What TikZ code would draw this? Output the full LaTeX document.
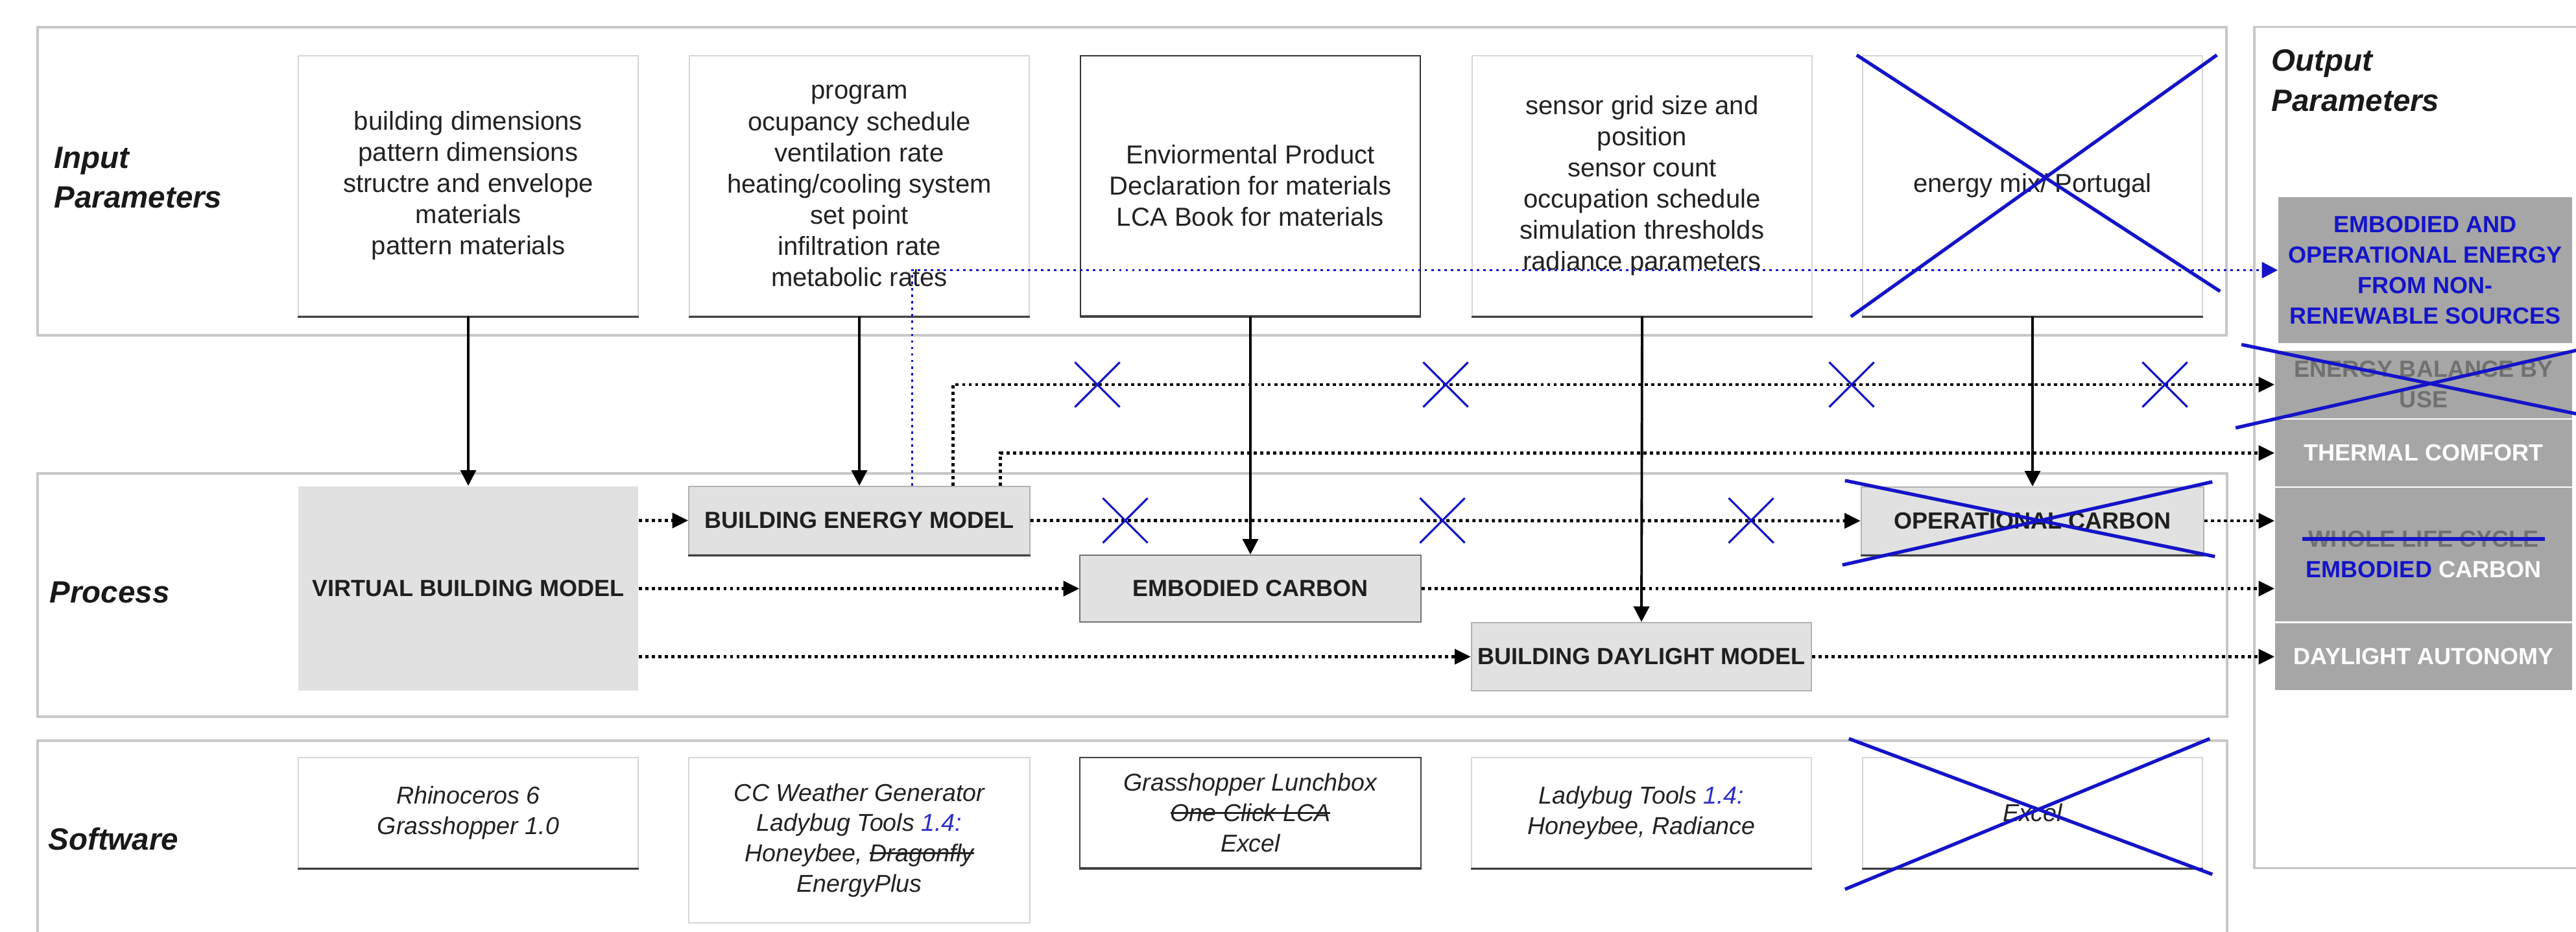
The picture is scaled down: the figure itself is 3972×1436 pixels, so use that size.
\documentclass[tikz,border=0pt]{standalone}
\usepackage{fontspec}
\setmainfont{Liberation Sans}
\usepackage{graphicx}
\usetikzlibrary{arrows.meta,shapes.misc,calc}
\definecolor{xblue}{RGB}{20,20,200}
\definecolor{lblue}{RGB}{45,45,200}
\definecolor{txtgray}{RGB}{34,34,34}
\definecolor{outgray}{RGB}{166,166,166}
\definecolor{procgray}{RGB}{225,225,225}
\definecolor{dimtext}{RGB}{112,112,112}
\newsavebox\mystrikebox
\newcommand\blackstrike[1]{\sbox\mystrikebox{#1}\rlap{#1}\rule[0.3em]{\wd\mystrikebox}{0.8pt}}
\newcommand\bluestrike[1]{\sbox\mystrikebox{#1}\rlap{#1}\hspace*{-2.7pt}{\color{xblue}\rule[\dimexpr0.36em-0.85pt\relax]{\dimexpr\wd\mystrikebox+5.4pt\relax}{1.7pt}}\hspace*{-2.7pt}}
\newcommand\intext{\fontsize{11.4pt}{13.66pt}\selectfont}
\newcommand\boxfont{\fontsize{10.25pt}{13.4pt}\selectfont\bfseries}
\newcommand\labfont{\fontsize{13.5pt}{17.5pt}\selectfont\bfseries\itshape}
\newcommand\swfont{\fontsize{10.7pt}{13.25pt}\selectfont\itshape}
\begin{document}
\begin{tikzpicture}[x=0.01cm,y=-0.01cm,
  panel/.style={draw=black!22, line width=1pt, fill=white, inner sep=0},
  lab/.style={font=\labfont, text=black!90, inner sep=0, align=left},
  inbox/.style={draw=black!16, line width=0.6pt, fill=white, minimum width=5.24cm, minimum height=4.01cm, inner sep=0, align=center, font=\intext, text=txtgray},
  procbox/.style={draw=black!30, line width=0.6pt, fill=procgray, inner sep=0, font=\boxfont, text=black!88},
  swbox/.style={draw=black!16, line width=0.6pt, fill=white, inner sep=0, text=txtgray, align=center, font=\swfont},
  outbox/.style={fill=outgray, inner sep=0, font=\boxfont, text=white, align=center},
  bottomline/.style={draw=black!75, line width=0.9pt},
  solidarrow/.style={-{Triangle[length=6.8pt,width=6.8pt]}, line width=1.1pt, black},
  dotarrow/.style={-{Triangle[length=7pt,width=6.5pt]}, line width=1.4pt, dash pattern=on 1.4pt off 1.45pt, black},
  bluedotarrow/.style={-{Triangle[length=7pt,width=7pt]}, line width=1.1pt, dash pattern=on 1.1pt off 1.75pt, xblue},
  xmark/.style={cross out, draw=xblue, line width=0.9pt, minimum size=0.66cm, inner sep=0},
  bigx/.style={draw=xblue, line width=1.5pt}
]
\fill[white] (0,0) rectangle (3972,1436);
\useasboundingbox (0,0) rectangle (3972,1436);

% panels
\node[panel, minimum width=33.73cm, minimum height=4.75cm] (pin) at (1745.5,279.5) {};
\node[panel, minimum width=33.74cm, minimum height=3.75cm] (pproc) at (1746,917.5) {};
\node[panel, minimum width=33.74cm, minimum height=3.08cm] (psw) at (1746,1296) {};
\node[panel, minimum width=5.24cm, minimum height=12.96cm] (pout) at (3738,690) {};

% panel labels
\node[lab, anchor=north west] (linput) at (83,226) {Input\\Parameters};
\node[lab, anchor=north west] (loutput) at (3502,76) {Output\\Parameters};
\node[lab, anchor=base west] (lproc) at (76,929) {Process};
\node[lab, anchor=base west] (lsw) at (74,1310) {Software};

% input boxes
\node[inbox] (in1) at (722,286.5) {building dimensions\\pattern dimensions\\structre and envelope\\materials\\pattern materials};
\node[inbox] (in2) at (1325,286.5) {program\\ocupancy schedule\\ventilation rate\\heating/cooling system\\set point\\infiltration rate\\metabolic rates};
\node[inbox, draw=black!80] (in3) at (1928,286.5) {Enviormental Product\\Declaration for materials\\LCA Book for materials};
\node[inbox] (in4) at (2532,286.5) {sensor grid size and\\position\\sensor count\\occupation schedule\\simulation thresholds\\radiance parameters};
\node[inbox] (in5) at (3134,286.5) {energy mix/ Portugal};

% process boxes
\node[procbox, draw=none, minimum width=5.24cm, minimum height=3.15cm] (vbm) at (722,907.5) {VIRTUAL BUILDING MODEL};
\node[procbox, minimum width=5.25cm, minimum height=1.05cm] (bem) at (1325,802.5) {BUILDING ENERGY MODEL};
\node[procbox, draw=black!55, minimum width=5.25cm, minimum height=1.03cm] (ec) at (1928,907.5) {EMBODIED CARBON};
\node[procbox, minimum width=5.24cm, minimum height=1.05cm] (bdm) at (2531,1012.5) {BUILDING DAYLIGHT MODEL};
\node[procbox, minimum width=5.28cm, minimum height=1.04cm] (oc) at (3134,803) {OPERATIONAL CARBON};

% software boxes
\node[swbox, minimum width=5.24cm, minimum height=1.70cm] (s1) at (722,1253) {Rhinoceros 6\\Grasshopper 1.0};
\node[swbox, minimum width=5.25cm, minimum height=2.55cm] (s2) at (1325,1295.5) {CC Weather Generator\\Ladybug Tools {\color{lblue}1.4:}\\Honeybee, \blackstrike{Dragonfly}\\EnergyPlus};
\node[swbox, draw=black!75, minimum width=5.25cm, minimum height=1.70cm] (s3) at (1928,1253) {Grasshopper Lunchbox\\\blackstrike{One Click LCA}\\Excel};
\node[swbox, minimum width=5.24cm, minimum height=1.70cm] (s4) at (2531,1253) {Ladybug Tools {\color{lblue}1.4:}\\Honeybee, Radiance};
\node[swbox, minimum width=5.24cm, minimum height=1.70cm] (s5) at (3134,1253) {Excel};

% dark bottom edges
\foreach \n in {in1,in2,in3,in4,in5,bem,oc,s1,s3,s4,s5}
  \draw[bottomline] (\n.south west) -- (\n.south east);

% output boxes
\node[outbox, minimum width=4.53cm, minimum height=2.25cm, text=xblue] (o1) at (3739.5,416.5) {EMBODIED AND\\OPERATIONAL ENERGY\\FROM NON-\\RENEWABLE SOURCES};
\node[outbox, minimum width=4.58cm, minimum height=1.04cm, text=dimtext] (o2) at (3737,593) {ENERGY BALANCE BY\\USE};
\node[outbox, minimum width=4.58cm, minimum height=1.02cm] (o3) at (3737,698.5) {THERMAL COMFORT};
\node[outbox, minimum width=4.58cm, minimum height=2.06cm] (o4) at (3737,855) {{\color{dimtext}\bluestrike{WHOLE LIFE CYCLE}}\\{\color{xblue}EMBODIED} CARBON};
\node[outbox, minimum width=4.58cm, minimum height=1.03cm] (o5) at (3737,1012.5) {DAYLIGHT AUTONOMY};

% solid input arrows
\draw[solidarrow] (in1.south) -- (vbm.north);
\draw[solidarrow] (in2.south) -- (bem.north);
\draw[solidarrow] (in3.south) -- (ec.north);
\draw[solidarrow] (in4.south) -- (bdm.north);
\draw[solidarrow] (in5.south) -- (oc.north);

% dotted process arrows
\draw[dotarrow] (vbm.east |- bem.west) -- (bem.west);
\draw[dotarrow] (vbm.east) -- (ec.west);
\draw[dotarrow] (vbm.east |- bdm.west) -- (bdm.west);
\draw[dotarrow] (bem.east) -- (oc.west);
\draw[dotarrow] ([xshift=4.075cm]bem.north west) |- (o2.west);
\draw[dotarrow] ([xshift=4.805cm]bem.north west) |- (o3.west);
\draw[bluedotarrow] ([xshift=3.45cm]bem.north west) |- (o1.west);
\draw[dotarrow] (oc.east) -- (oc.east -| o4.west);
\draw[dotarrow] (ec.east) -- (ec.east -| o4.west);
\draw[dotarrow] (bdm.east) -- (bdm.east -| o5.west);

% small blue crosses on connectors
\node[xmark] (xa1) at (1692,593) {};
\node[xmark] (xa2) at (2229,593) {};
\node[xmark] (xa3) at (2855,593) {};
\node[xmark] (xa4) at (3338,593) {};
\node[xmark] (xb1) at (1735,802.5) {};
\node[xmark] (xb2) at (2224,802.5) {};
\node[xmark] (xb3) at (2700,802.5) {};

% large blue crosses
\draw[bigx] ($(in5.north west)+(-8,0)$) -- ($(in5.south east)+(26,-39)$);
\draw[bigx] ($(in5.south west)+(-17,0)$) -- ($(in5.north east)+(21,0)$);
\draw[bigx] ($(oc.north west)+(-24,-9)$) -- ($(oc.south east)+(16,2)$);
\draw[bigx] ($(oc.south west)+(-28,15)$) -- ($(oc.north east)+(12,-7)$);
\draw[bigx] ($(o2.north west)+(-51,-9)$) -- ($(o2.south east)+(14,-6)$);
\draw[bigx] ($(o2.south west)+(-60,14)$) -- ($(o2.north east)+(14,-2)$);
\draw[bigx] ($(s5.north west)+(-20,-28)$) -- ($(s5.south east)+(14,9)$);
\draw[bigx] ($(s5.south west)+(-26,32)$) -- ($(s5.north east)+(10,-28)$);
\end{tikzpicture}
\end{document}
